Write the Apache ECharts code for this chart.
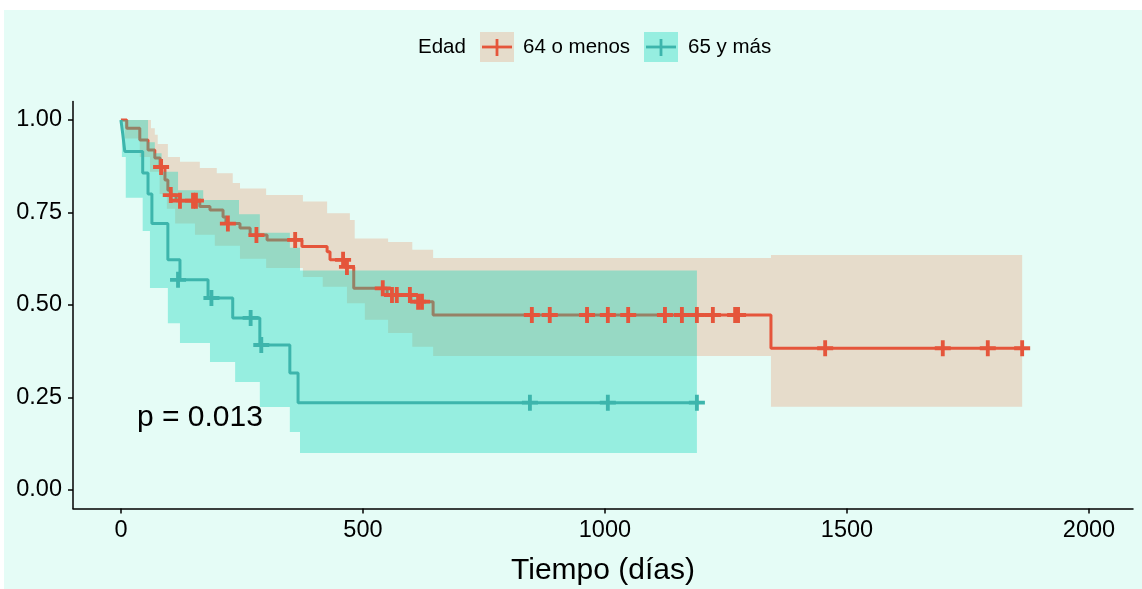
<!DOCTYPE html>
<html>
<head>
<meta charset="utf-8">
<script src="https://cdn.jsdelivr.net/npm/echarts@6/dist/echarts.min.js"></script>
<style>
html,body{margin:0;padding:0;background:#fff;}
#chart{width:1142px;height:589px;}
</style>
</head>
<body>
<div id="chart"></div>
<script>
// ---- Data ----
const groupNames = ['64 o menos', '65 y más'];
const legendTitle = 'Edad';
const xTicks = [0, 500, 1000, 1500, 2000];
const yTicks = [0, 0.25, 0.5, 0.75, 1];
const xTitle = 'Tiempo (días)';
const pText = 'p = 0.013';

// Kaplan-Meier estimate, group "64 o menos"
const redT = [0, 12, 39, 56, 70, 81, 91, 97, 103, 114, 163, 184, 211, 217, 246, 267, 302, 374, 426, 432, 462, 481, 550, 599, 645, 1343, 1862];
const redS = [1.0, 0.978, 0.946, 0.919, 0.897, 0.873, 0.838, 0.81, 0.797, 0.782, 0.766, 0.757, 0.738, 0.72, 0.708, 0.689, 0.676, 0.658, 0.644, 0.622, 0.603, 0.545, 0.527, 0.509, 0.473, 0.383, 0.383];
// censored times, group "64 o menos"
const redCensT = [83, 103, 122, 149, 155, 221, 280, 360, 459, 467, 541, 560, 570, 597, 614, 622, 849, 886, 963, 1006, 1048, 1124, 1159, 1190, 1223, 1269, 1275, 1455, 1698, 1791, 1862];
const redCensS = [0.873, 0.797, 0.782, 0.782, 0.782, 0.72, 0.689, 0.676, 0.622, 0.603, 0.545, 0.527, 0.527, 0.527, 0.509, 0.509, 0.473, 0.473, 0.473, 0.473, 0.473, 0.473, 0.473, 0.473, 0.473, 0.473, 0.473, 0.383, 0.383, 0.383, 0.383];
// confidence band, group "64 o menos"
const redBandT  = [0, 8, 39, 60, 62, 70, 76, 80, 95, 97, 112, 122, 153, 163, 194, 198, 231, 246, 300, 376, 417, 426, 467, 473, 483, 504, 552, 602, 645, 1343, 1862];
const redBandLo = [1.0, 0.95, 0.9, 0.86, 0.86, 0.86, 0.86, 0.80, 0.76, 0.76, 0.72, 0.72, 0.69, 0.69, 0.66, 0.66, 0.66, 0.625, 0.60, 0.576, 0.549, 0.549, 0.505, 0.505, 0.505, 0.46, 0.424, 0.387, 0.362, 0.225, 0.225];
const redBandHi = [1.0, 1.0, 1.0, 1.0, 0.978, 0.96, 0.935, 0.935, 0.935, 0.90, 0.90, 0.887, 0.887, 0.87, 0.87, 0.856, 0.83, 0.815, 0.797, 0.78, 0.78, 0.748, 0.748, 0.73, 0.68, 0.68, 0.67, 0.649, 0.627, 0.635, 0.635];

// Kaplan-Meier estimate, group "65 y más"
const tealT = [0, 4, 8, 45, 56, 64, 97, 122, 180, 231, 287, 349, 366, 1190];
const tealS = [1.0, 0.96, 0.915, 0.857, 0.80, 0.72, 0.622, 0.568, 0.519, 0.465, 0.392, 0.316, 0.236, 0.236];
const tealCensT = [118, 187, 268, 290, 845, 1006, 1190];
const tealCensS = [0.568, 0.519, 0.465, 0.392, 0.236, 0.236, 0.236];
// confidence band, group "65 y más"
const tealBandT  = [0, 2, 10, 45, 56, 60, 70, 84, 97, 118, 122, 170, 184, 236, 244, 287, 349, 370, 1190];
const tealBandLo = [1.0, 0.9, 0.79, 0.70, 0.70, 0.546, 0.546, 0.546, 0.451, 0.451, 0.397, 0.397, 0.346, 0.292, 0.292, 0.224, 0.157, 0.10, 0.10];
const tealBandHi = [1.0, 1.0, 1.0, 1.0, 0.94, 0.94, 0.91, 0.86, 0.86, 0.81, 0.81, 0.784, 0.784, 0.784, 0.745, 0.695, 0.655, 0.593, 0.593];

const pPos = [33, 0.195];

// ---- Styling ----
const RED = '#E5553B';
const TEAL = '#3DB5AC';
const RED_BAND = 'rgba(232,145,103,0.3)';
const TEAL_BAND = 'rgba(3,212,183,0.35)';
const BG = '#E5FCF6';
const FONT = '"Liberation Sans", Arial, sans-serif';

const zip = (a, b) => a.map((v, i) => [v, b[i]]);
const plusPath = 'path://M3.8,0 H6.2 V3.8 H10 V6.2 H6.2 V10 H3.8 V6.2 H0 V3.8 H3.8 Z';

// Confidence band drawn as a step polygon through the axis scales
function bandSeries(name, T, lo, hi, color, z) {
  return {
    name: name, type: 'custom', silent: true, z: z,
    data: [[T[0], lo[0]]],
    renderItem: function (params, api) {
      const pts = [];
      for (let i = 0; i < T.length; i++) {
        pts.push(api.coord([T[i], hi[i]]));
        if (i < T.length - 1) pts.push(api.coord([T[i + 1], hi[i]]));
      }
      for (let i = T.length - 1; i >= 0; i--) {
        if (i < T.length - 1) pts.push(api.coord([T[i + 1], lo[i]]));
        pts.push(api.coord([T[i], lo[i]]));
      }
      return { type: 'polygon', shape: { points: pts }, style: { fill: color } };
    }
  };
}

// p-value text placed at a data position
function pSeries() {
  return {
    name: 'pval', type: 'custom', silent: true, z: 6,
    data: [pPos],
    renderItem: function (params, api) {
      const p = api.coord([api.value(0), api.value(1)]);
      return { type: 'text', x: p[0], y: p[1],
        style: { text: pText, fill: '#000', font: '30px ' + FONT, verticalAlign: 'middle', align: 'left' } };
    }
  };
}

const chart = echarts.init(document.getElementById('chart'), null, { renderer: 'canvas' });

const option = {
  animation: false,
  backgroundColor: '#ffffff',
  textStyle: { fontFamily: FONT },
  grid: { left: 73, right: 9, top: 101.5, bottom: 80.5, outerBoundsMode: 'none' },
  xAxis: {
    type: 'value', min: -99, max: 2091,
    splitLine: { show: false },
    axisLine: { show: true, onZero: false, lineStyle: { color: '#000', width: 1.5 } },
    axisTick: { show: true, length: 5, lineStyle: { color: '#000', width: 1.5 }, customValues: xTicks },
    axisLabel: { customValues: xTicks, color: '#000', fontSize: 23.5, margin: 10, fontFamily: FONT,
      formatter: v => String(v) },
    name: xTitle, nameLocation: 'middle', nameGap: 47,
    nameTextStyle: { fontSize: 30, color: '#000', fontFamily: FONT }
  },
  yAxis: {
    type: 'value', min: -0.05, max: 1.05,
    splitLine: { show: false },
    axisLine: { show: true, onZero: false, lineStyle: { color: '#000', width: 1.5 } },
    axisTick: { show: true, length: 5, lineStyle: { color: '#000', width: 1.5 }, customValues: yTicks },
    axisLabel: { customValues: yTicks, color: '#000', fontSize: 23.5, margin: 11, fontFamily: FONT,
      formatter: v => v.toFixed(2) }
  },
  graphic: [
    { type: 'rect', z: -100, silent: true, shape: { x: 4, y: 10, width: 1138, height: 579 }, style: { fill: BG } },
    { type: 'text', z: 10, style: { text: legendTitle, x: 418, y: 47, fill: '#000', font: '20.5px ' + FONT, textVerticalAlign: 'middle' } },
    { type: 'rect', z: 10, shape: { x: 480, y: 32, width: 34, height: 30 }, style: { fill: '#E5DCCB' } },
    { type: 'line', z: 11, shape: { x1: 482, y1: 47, x2: 512, y2: 47 }, style: { stroke: RED, lineWidth: 2.8 } },
    { type: 'line', z: 11, shape: { x1: 497, y1: 39, x2: 497, y2: 56 }, style: { stroke: RED, lineWidth: 2.8 } },
    { type: 'text', z: 10, style: { text: groupNames[0], x: 523, y: 47, fill: '#000', font: '20.5px ' + FONT, textVerticalAlign: 'middle' } },
    { type: 'rect', z: 10, shape: { x: 644, y: 32, width: 34, height: 30 }, style: { fill: '#96EEE0' } },
    { type: 'line', z: 11, shape: { x1: 646, y1: 47, x2: 676, y2: 47 }, style: { stroke: TEAL, lineWidth: 2.8 } },
    { type: 'line', z: 11, shape: { x1: 661, y1: 39, x2: 661, y2: 56 }, style: { stroke: TEAL, lineWidth: 2.8 } },
    { type: 'text', z: 10, style: { text: groupNames[1], x: 688, y: 47, fill: '#000', font: '20.5px ' + FONT, textVerticalAlign: 'middle' } }
  ],
  series: [
    bandSeries('redBand', redBandT, redBandLo, redBandHi, RED_BAND, 1),
    { name: groupNames[0], type: 'line', step: 'end', symbol: 'none', data: zip(redT, redS),
      lineStyle: { color: RED, width: 3 }, z: 2 },
    bandSeries('tealBand', tealBandT, tealBandLo, tealBandHi, TEAL_BAND, 3),
    { name: groupNames[1], type: 'line', step: 'end', symbol: 'none', data: zip(tealT, tealS),
      lineStyle: { color: TEAL, width: 3 }, z: 4 },
    { name: groupNames[0] + ' censor', type: 'scatter', symbol: plusPath, symbolSize: 16,
      data: zip(redCensT, redCensS), itemStyle: { color: RED, opacity: 1 }, z: 5 },
    { name: groupNames[1] + ' censor', type: 'scatter', symbol: plusPath, symbolSize: 16,
      data: zip(tealCensT, tealCensS), itemStyle: { color: TEAL, opacity: 1 }, z: 5 },
    pSeries()
  ]
};
chart.setOption(option);
</script>
</body>
</html>
